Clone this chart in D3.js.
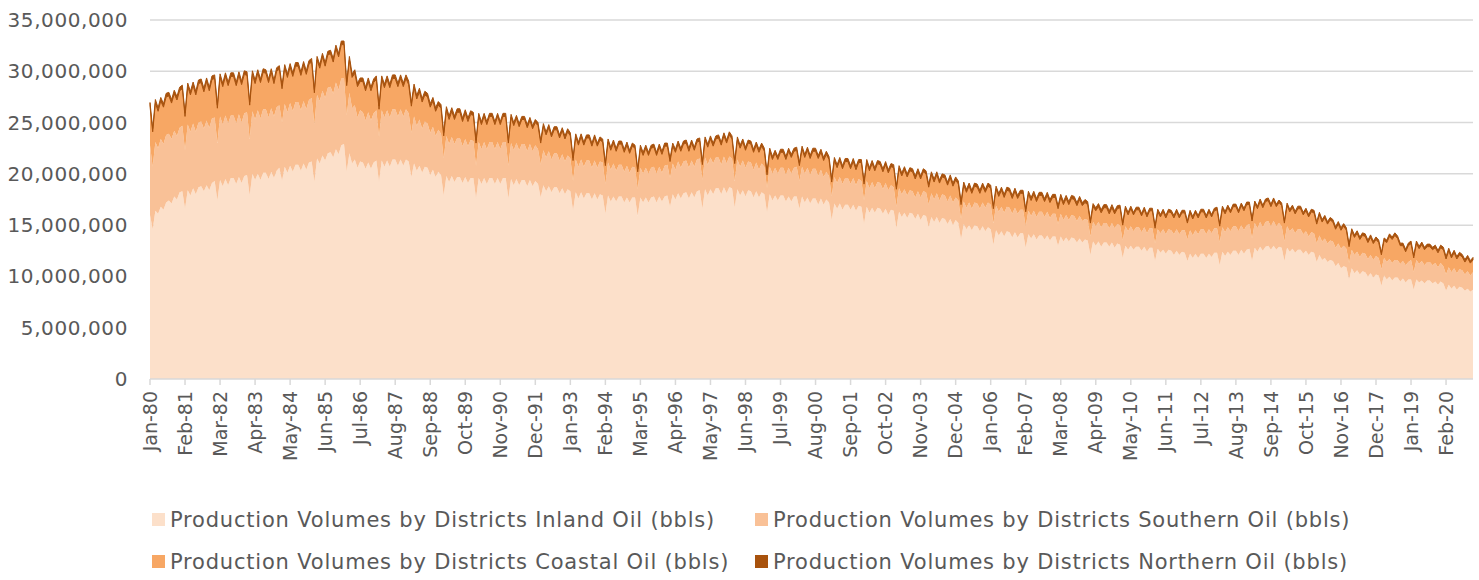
<!DOCTYPE html>
<html>
<head>
<meta charset="utf-8">
<script src="https://cdn.jsdelivr.net/npm/d3@7"></script>
<style>
  body { margin: 0; background: #fff; }
  text { font-family: "Century Gothic", "DejaVu Sans", sans-serif; fill: #595959; }
</style>
</head>
<body>
<div id="chart"></div>
<script>
/*
 * Monthly production, Jan-80 .. Dec-20, in millions of bbls.
 * One row per year.
 */
var monthNames = ["Jan","Feb","Mar","Apr","May","Jun","Jul","Aug","Sep","Oct","Nov","Dec"]
  , firstYear = 1980
  , lastYear = 2020;

var inland = [
  16.0,14.6,16.4,16.1,16.8,16.5,17.2,17.4,17.1,17.8,17.5,18.2,
  18.3,16.6,18.4,17.9,18.6,18.0,18.7,18.8,18.3,18.9,18.4,19.1,
  19.3,17.4,19.4,18.8,19.5,18.9,19.6,19.6,19.0,19.7,19.1,19.8,
  19.9,17.9,20.0,19.4,20.0,19.4,20.1,20.1,19.5,20.2,19.6,20.3,
  20.6,19.3,20.7,20.1,20.8,20.2,20.9,20.9,20.3,21.0,20.4,21.1,
  21.2,19.2,21.5,21.0,21.8,21.3,22.0,22.1,21.6,22.4,21.9,22.8,
  22.9,20.2,22.0,21.0,21.4,20.6,21.2,21.1,20.5,21.1,20.5,21.1,
  21.3,19.2,21.3,20.7,21.3,20.7,21.4,21.4,20.8,21.4,20.8,21.4,
  21.2,19.7,21.0,20.3,20.8,20.1,20.7,20.6,19.9,20.4,19.7,20.2,
  19.9,17.9,19.8,19.2,19.8,19.2,19.7,19.7,19.1,19.7,19.1,19.6,
  19.6,17.6,19.6,19.0,19.6,19.0,19.6,19.6,19.0,19.6,19.0,19.6,
  19.6,17.6,19.5,18.9,19.5,18.9,19.4,19.4,18.8,19.4,18.8,19.3,
  19.0,17.7,18.9,18.3,18.8,18.2,18.7,18.7,18.1,18.6,18.0,18.5,
  18.3,16.4,18.2,17.6,18.2,17.6,18.1,18.1,17.5,18.1,17.5,18.0,
  17.9,16.1,17.9,17.3,17.8,17.3,17.8,17.8,17.2,17.7,17.2,17.7,
  17.7,15.9,17.7,17.2,17.7,17.2,17.7,17.8,17.2,17.8,17.3,17.8,
  17.9,16.8,18.0,17.5,18.1,17.6,18.1,18.2,17.6,18.2,17.7,18.3,
  18.4,16.6,18.5,17.9,18.5,18.0,18.6,18.6,18.0,18.7,18.1,18.7,
  18.6,16.7,18.5,17.9,18.4,17.8,18.4,18.3,17.7,18.3,17.7,18.2,
  18.0,16.2,18.0,17.4,17.9,17.4,17.9,17.9,17.3,17.8,17.3,17.8,
  17.8,16.6,17.8,17.2,17.7,17.1,17.6,17.6,17.0,17.6,17.0,17.5,
  17.2,15.5,17.1,16.6,17.1,16.5,17.0,17.0,16.5,17.0,16.4,16.9,
  16.8,15.1,16.8,16.2,16.7,16.2,16.7,16.6,16.1,16.6,16.0,16.5,
  16.4,14.7,16.3,15.8,16.2,15.7,16.2,16.1,15.6,16.1,15.5,16.0,
  15.9,14.8,15.8,15.3,15.8,15.2,15.7,15.6,15.1,15.6,15.0,15.5,
  15.2,13.6,15.1,14.6,15.0,14.5,15.0,14.9,14.4,14.9,14.4,14.8,
  14.6,13.1,14.5,14.0,14.4,13.9,14.4,14.3,13.8,14.3,13.8,14.2,
  14.2,12.8,14.1,13.7,14.1,13.6,14.0,14.0,13.6,14.0,13.5,13.9,
  13.9,13.0,13.9,13.4,13.8,13.4,13.8,13.7,13.3,13.7,13.3,13.6,
  13.5,12.1,13.4,13.0,13.4,12.9,13.3,13.3,12.9,13.3,12.8,13.2,
  13.1,11.8,13.0,12.6,13.0,12.6,12.9,12.9,12.5,12.9,12.4,12.8,
  12.8,11.5,12.7,12.3,12.6,12.2,12.6,12.5,12.1,12.5,12.1,12.4,
  12.3,11.5,12.2,11.8,12.2,11.8,12.2,12.2,11.8,12.2,11.9,12.3,
  12.3,11.1,12.4,12.0,12.4,12.1,12.5,12.5,12.1,12.6,12.2,12.6,
  12.7,11.5,12.8,12.4,12.9,12.5,12.9,13.0,12.6,13.0,12.6,12.9,
  12.8,11.5,12.8,12.4,12.7,12.3,12.6,12.6,12.2,12.5,12.1,12.4,
  12.3,11.4,12.1,11.6,11.8,11.4,11.6,11.5,11.0,11.3,10.8,11.0,
  10.9,9.7,10.8,10.3,10.6,10.2,10.5,10.4,10.0,10.3,9.9,10.2,
  10.1,9.1,10.1,9.7,10.0,9.6,9.9,9.9,9.5,9.8,9.4,9.7,
  9.7,8.7,9.7,9.4,9.6,9.3,9.6,9.6,9.3,9.5,9.2,9.5,
  9.3,8.6,9.2,8.8,9.1,8.7,9.0,8.9,8.6,8.8,8.5,8.7
];

var southern = [
  6.8,6.1,6.7,6.4,6.6,6.4,6.6,6.5,6.3,6.4,6.2,6.3,
  6.4,5.7,6.4,6.2,6.3,6.1,6.3,6.3,6.1,6.3,6.1,6.3,
  6.2,5.6,6.2,6.0,6.2,6.0,6.1,6.1,5.9,6.1,5.9,6.1,
  6.1,5.5,6.1,5.9,6.2,6.0,6.2,6.2,6.0,6.2,6.0,6.2,
  6.1,5.7,6.1,5.9,6.1,5.9,6.1,6.1,5.9,6.1,5.9,6.1,
  6.2,5.6,6.2,6.1,6.3,6.1,6.4,6.4,6.2,6.5,6.3,6.5,
  6.4,5.5,5.9,5.4,5.3,4.9,5.0,4.9,4.7,4.9,4.7,4.8,
  4.9,4.4,4.9,4.8,4.9,4.8,4.9,4.9,4.8,4.9,4.8,4.9,
  4.7,4.3,4.6,4.4,4.5,4.3,4.4,4.3,4.1,4.2,4.0,4.1,
  4.0,3.6,3.9,3.7,3.8,3.7,3.8,3.8,3.6,3.7,3.6,3.7,
  3.6,3.2,3.5,3.4,3.5,3.4,3.5,3.5,3.4,3.5,3.4,3.5,
  3.5,3.2,3.5,3.4,3.5,3.4,3.5,3.5,3.4,3.5,3.4,3.5,
  3.4,3.2,3.4,3.3,3.4,3.2,3.3,3.3,3.2,3.3,3.2,3.3,
  3.2,2.9,3.2,3.1,3.2,3.1,3.2,3.2,3.1,3.2,3.1,3.2,
  3.2,2.9,3.2,3.1,3.2,3.0,3.1,3.1,3.0,3.1,2.9,3.0,
  2.9,2.6,2.9,2.8,2.9,2.8,2.9,2.9,2.8,2.9,2.8,3.0,
  3.0,2.8,3.0,2.9,3.1,3.0,3.1,3.1,3.0,3.1,3.0,3.1,
  3.1,2.8,3.1,3.0,3.1,3.0,3.0,3.0,2.9,3.0,2.9,3.0,
  2.9,2.6,2.9,2.8,2.9,2.8,2.8,2.8,2.7,2.8,2.7,2.8,
  2.7,2.4,2.7,2.6,2.7,2.6,2.7,2.7,2.6,2.8,2.7,2.8,
  2.9,2.7,2.9,2.8,2.9,2.8,2.9,2.9,2.8,2.8,2.7,2.7,
  2.6,2.3,2.6,2.5,2.6,2.5,2.6,2.6,2.5,2.6,2.5,2.6,
  2.5,2.3,2.5,2.4,2.5,2.4,2.5,2.5,2.4,2.5,2.4,2.4,
  2.3,2.1,2.3,2.2,2.3,2.2,2.2,2.2,2.1,2.2,2.2,2.3,
  2.3,2.2,2.3,2.2,2.3,2.2,2.3,2.3,2.2,2.3,2.2,2.2,
  2.2,2.0,2.2,2.1,2.2,2.1,2.2,2.2,2.2,2.3,2.3,2.4,
  2.4,2.1,2.4,2.3,2.4,2.3,2.4,2.4,2.3,2.4,2.3,2.3,
  2.3,2.1,2.3,2.2,2.3,2.2,2.3,2.3,2.2,2.3,2.2,2.2,
  2.2,2.1,2.2,2.1,2.2,2.1,2.2,2.2,2.1,2.2,2.1,2.0,
  2.0,1.8,1.9,1.9,1.9,1.9,1.9,1.9,1.8,1.9,1.9,1.9,
  1.9,1.7,1.9,1.8,1.9,1.8,1.9,1.9,1.8,1.9,1.8,1.9,
  1.9,1.7,1.9,1.9,2.0,1.9,2.0,2.0,2.0,2.1,2.0,2.1,
  2.2,2.1,2.3,2.2,2.3,2.3,2.4,2.4,2.3,2.4,2.3,2.4,
  2.4,2.2,2.4,2.3,2.4,2.3,2.4,2.4,2.3,2.4,2.3,2.4,
  2.4,2.2,2.4,2.3,2.4,2.3,2.4,2.4,2.3,2.4,2.3,2.3,
  2.1,1.9,2.1,2.0,2.0,1.9,2.0,2.0,1.9,1.9,1.8,1.9,
  1.9,1.8,1.9,1.8,1.9,1.8,1.9,1.9,1.8,1.9,1.9,2.0,
  1.8,1.6,1.8,1.8,1.8,1.7,1.8,1.8,1.7,1.8,1.7,1.8,
  1.7,1.6,1.7,1.7,1.7,1.7,1.7,1.7,1.7,1.7,1.7,1.7,
  1.9,1.7,1.9,1.8,1.9,1.8,1.8,1.8,1.8,1.8,1.7,1.8,
  1.7,1.6,1.7,1.6,1.7,1.6,1.7,1.7,1.6,1.7,1.6,1.7
];

var coastal = [
  3.8,3.4,3.8,3.6,3.7,3.6,3.7,3.7,3.5,3.6,3.5,3.6,
  3.6,3.3,3.7,3.6,3.7,3.6,3.8,3.8,3.6,3.8,3.6,3.8,
  3.8,3.4,3.8,3.7,3.8,3.7,3.8,3.8,3.7,3.8,3.7,3.8,
  3.6,3.3,3.6,3.5,3.6,3.5,3.6,3.5,3.4,3.5,3.2,3.5,
  3.5,3.3,3.5,3.4,3.5,3.4,3.5,3.5,3.4,3.5,3.4,3.5,
  3.5,3.1,3.4,3.2,3.3,3.1,3.2,3.2,3.1,3.3,3.2,3.3,
  3.3,2.9,3.2,3.0,3.1,3.0,2.8,3.0,2.9,3.0,2.9,3.0,
  3.0,2.7,3.0,2.9,3.0,2.9,3.0,3.0,2.9,3.0,2.9,3.0,
  2.8,2.6,2.8,2.6,2.7,2.6,2.6,2.6,2.5,2.5,2.4,2.4,
  2.5,2.2,2.5,2.4,2.5,2.4,2.5,2.5,2.4,2.5,2.4,2.5,
  2.5,2.2,2.5,2.4,2.5,2.4,2.5,2.5,2.4,2.5,2.4,2.5,
  2.5,2.2,2.5,2.4,2.4,2.3,2.4,2.4,2.3,2.3,2.2,2.2,
  2.3,2.1,2.3,2.2,2.3,2.2,2.3,2.3,2.2,2.3,2.2,2.3,
  2.2,2.0,2.2,2.1,2.2,2.1,2.2,2.2,2.1,2.2,2.1,2.1,
  2.0,1.8,2.0,1.9,2.0,1.9,2.0,2.0,1.9,2.0,1.9,2.0,
  1.9,1.7,1.9,1.8,1.9,1.8,1.9,1.9,1.8,1.9,1.8,1.9,
  1.8,1.6,1.7,1.7,1.7,1.6,1.7,1.7,1.6,1.7,1.6,1.7,
  1.7,1.5,1.7,1.7,1.8,1.7,1.8,1.9,1.9,2.0,2.0,2.1,
  1.9,1.7,1.9,1.8,1.8,1.7,1.8,1.8,1.7,1.7,1.7,1.7,
  1.5,1.3,1.5,1.4,1.4,1.4,1.5,1.5,1.5,1.6,1.6,1.6,
  1.6,1.5,1.7,1.6,1.7,1.6,1.7,1.7,1.7,1.7,1.6,1.7,
  1.6,1.4,1.6,1.5,1.6,1.5,1.6,1.6,1.5,1.6,1.5,1.6,
  1.8,1.6,1.8,1.7,1.8,1.7,1.8,1.8,1.7,1.8,1.7,1.8,
  1.9,1.7,1.9,1.8,1.9,1.8,1.9,1.9,1.8,1.9,1.8,1.9,
  1.8,1.7,1.8,1.7,1.8,1.7,1.7,1.7,1.6,1.7,1.6,1.7,
  1.6,1.4,1.6,1.5,1.6,1.5,1.6,1.6,1.5,1.6,1.5,1.6,
  1.6,1.4,1.6,1.5,1.6,1.5,1.6,1.6,1.5,1.6,1.5,1.6,
  1.6,1.4,1.6,1.5,1.6,1.5,1.6,1.6,1.5,1.6,1.5,1.6,
  1.6,1.5,1.6,1.5,1.6,1.5,1.6,1.6,1.5,1.6,1.5,1.6,
  1.5,1.3,1.5,1.5,1.5,1.4,1.5,1.5,1.4,1.5,1.4,1.5,
  1.7,1.5,1.7,1.6,1.7,1.6,1.7,1.7,1.6,1.7,1.6,1.7,
  1.7,1.5,1.7,1.6,1.7,1.6,1.7,1.7,1.6,1.7,1.6,1.7,
  1.7,1.6,1.7,1.6,1.7,1.6,1.7,1.7,1.6,1.7,1.6,1.7,
  1.8,1.6,1.8,1.8,1.9,1.8,1.9,1.9,1.8,1.9,1.9,2.0,
  1.9,1.7,1.9,1.9,2.0,1.9,2.0,2.0,1.9,2.0,1.9,2.0,
  2.0,1.8,2.0,1.9,2.0,1.9,2.0,2.0,1.9,2.0,1.9,2.0,
  2.0,1.9,2.0,1.9,2.0,1.9,2.0,1.9,1.8,1.9,1.8,1.9,
  1.8,1.6,1.8,1.7,1.8,1.7,1.7,1.7,1.6,1.7,1.6,1.6,
  1.5,1.4,1.7,1.9,2.2,2.3,2.4,2.1,1.8,1.5,1.3,1.6,
  1.6,1.4,1.6,1.5,1.6,1.5,1.5,1.5,1.5,1.5,1.4,1.5,
  1.6,1.5,1.6,1.4,1.5,1.4,1.4,1.3,1.2,1.3,1.2,1.2
];

var northern = [
  0.35,0.32,0.35,0.34,0.35,0.34,0.35,0.35,0.34,0.35,0.34,0.35,
  0.35,0.32,0.35,0.34,0.35,0.34,0.35,0.35,0.34,0.35,0.34,0.35,
  0.35,0.32,0.35,0.34,0.35,0.34,0.35,0.35,0.34,0.35,0.34,0.35,
  0.35,0.32,0.35,0.34,0.35,0.34,0.35,0.35,0.34,0.35,0.34,0.35,
  0.35,0.33,0.35,0.34,0.35,0.34,0.35,0.35,0.34,0.35,0.34,0.35,
  0.35,0.32,0.35,0.34,0.35,0.34,0.35,0.35,0.34,0.35,0.34,0.35,
  0.35,0.32,0.35,0.34,0.35,0.34,0.35,0.35,0.34,0.35,0.34,0.35,
  0.35,0.32,0.35,0.34,0.35,0.34,0.35,0.35,0.34,0.35,0.34,0.35,
  0.35,0.33,0.35,0.34,0.35,0.34,0.35,0.35,0.34,0.35,0.34,0.35,
  0.35,0.32,0.35,0.34,0.35,0.34,0.35,0.35,0.34,0.35,0.34,0.35,
  0.30,0.27,0.30,0.29,0.30,0.29,0.30,0.30,0.29,0.30,0.29,0.30,
  0.30,0.27,0.30,0.29,0.30,0.29,0.30,0.30,0.29,0.30,0.29,0.30,
  0.30,0.28,0.30,0.29,0.30,0.29,0.30,0.30,0.29,0.30,0.29,0.30,
  0.30,0.27,0.30,0.29,0.30,0.29,0.30,0.30,0.29,0.30,0.29,0.30,
  0.30,0.27,0.30,0.29,0.30,0.29,0.30,0.30,0.29,0.30,0.29,0.30,
  0.30,0.27,0.30,0.29,0.30,0.29,0.30,0.30,0.29,0.30,0.29,0.30,
  0.30,0.28,0.30,0.29,0.30,0.29,0.30,0.30,0.29,0.30,0.29,0.30,
  0.30,0.27,0.30,0.29,0.30,0.29,0.30,0.30,0.29,0.30,0.29,0.30,
  0.30,0.27,0.30,0.29,0.30,0.29,0.30,0.30,0.29,0.30,0.29,0.30,
  0.30,0.27,0.30,0.29,0.30,0.29,0.30,0.30,0.29,0.30,0.29,0.30,
  0.30,0.28,0.30,0.29,0.30,0.29,0.30,0.30,0.29,0.30,0.29,0.30,
  0.30,0.27,0.30,0.29,0.30,0.29,0.30,0.30,0.29,0.30,0.29,0.30,
  0.30,0.27,0.30,0.29,0.30,0.29,0.30,0.30,0.29,0.30,0.29,0.30,
  0.30,0.27,0.30,0.29,0.30,0.29,0.30,0.30,0.29,0.30,0.29,0.30,
  0.30,0.28,0.30,0.29,0.30,0.29,0.30,0.30,0.29,0.30,0.29,0.30,
  0.30,0.27,0.30,0.29,0.30,0.29,0.30,0.30,0.29,0.30,0.29,0.30,
  0.30,0.27,0.30,0.29,0.30,0.29,0.30,0.30,0.29,0.30,0.29,0.30,
  0.30,0.27,0.30,0.29,0.30,0.29,0.30,0.30,0.29,0.30,0.29,0.30,
  0.30,0.28,0.30,0.29,0.30,0.29,0.30,0.30,0.29,0.30,0.29,0.30,
  0.30,0.27,0.30,0.29,0.30,0.29,0.30,0.30,0.29,0.30,0.29,0.30,
  0.25,0.23,0.25,0.24,0.25,0.24,0.25,0.25,0.24,0.25,0.24,0.25,
  0.25,0.23,0.25,0.24,0.25,0.24,0.25,0.25,0.24,0.25,0.24,0.25,
  0.25,0.23,0.25,0.24,0.25,0.24,0.25,0.25,0.24,0.25,0.24,0.25,
  0.25,0.23,0.25,0.24,0.25,0.24,0.25,0.25,0.24,0.25,0.24,0.25,
  0.25,0.23,0.25,0.24,0.25,0.24,0.25,0.25,0.24,0.25,0.24,0.25,
  0.25,0.23,0.25,0.24,0.25,0.24,0.25,0.25,0.24,0.25,0.24,0.25,
  0.25,0.23,0.25,0.24,0.25,0.24,0.25,0.25,0.24,0.25,0.24,0.25,
  0.25,0.23,0.25,0.24,0.25,0.24,0.25,0.25,0.24,0.25,0.24,0.25,
  0.25,0.23,0.25,0.24,0.25,0.24,0.25,0.25,0.24,0.25,0.24,0.25,
  0.25,0.23,0.25,0.24,0.25,0.24,0.25,0.25,0.24,0.25,0.24,0.25,
  0.25,0.23,0.25,0.24,0.25,0.24,0.25,0.25,0.24,0.25,0.24,0.25
];

var seriesNames = [
  "Production Volumes by Districts Inland Oil (bbls)",
  "Production Volumes by Districts Southern Oil (bbls)",
  "Production Volumes by Districts Coastal Oil (bbls)",
  "Production Volumes by Districts Northern Oil (bbls)"
];
var yTicks = [0, 5, 10, 15, 20, 25, 30, 35];   // millions

var keys = ["inland", "southern", "coastal", "northern"]
  , colors = ["#fce0ca", "#f9c197", "#f7a764", "#a8520d"];

/*
 * Category labels like "Jan-80".
 */
var categories = [];
for (var yr = firstYear; yr <= lastYear; yr++) {
  monthNames.forEach(function(m) {
    categories.push(m + "-" + String(yr).slice(2));
  });
}

var rows = categories.map(function(c, i) {
  return { cat: c, i: i, inland: inland[i], southern: southern[i],
           coastal: coastal[i], northern: northern[i] };
});

var width = 1479
  , height = 580
  , plotLeft = 150
  , plotRight = 1473
  , plotTop = 20
  , plotBottom = 379;

var svg = d3.select('#chart').append('svg')
  .attr('width', width)
  .attr('height', height);

var x = d3.scaleLinear()
  .domain([0, categories.length - 1])
  .range([plotLeft, plotRight]);

var yScale = d3.scaleLinear()
  .domain([0, 35])
  .range([plotBottom, plotTop]);

/*
 * Gridlines and y labels.
 */
svg.append('g').selectAll('line')
  .data(yTicks.filter(function(d) { return d > 0; }))
  .enter().append('line')
  .attr('x1', plotLeft).attr('x2', plotRight)
  .attr('y1', function(d) { return yScale(d); })
  .attr('y2', function(d) { return yScale(d); })
  .attr('stroke', '#d9d9d9')
  .attr('stroke-width', 1.5);

svg.append('g').selectAll('text')
  .data(yTicks)
  .enter().append('text')
  .attr('x', 128)
  .attr('y', function(d) { return yScale(d); })
  .attr('dy', '0.35em')
  .attr('text-anchor', 'end')
  .style('font-size', '20px')
  .style('letter-spacing', '0.6px')
  .text(function(d) { return d3.format(",")(d * 1e6); });

/*
 * Stacked areas.
 */
var stack = d3.stack().keys(keys)(rows);

var area = d3.area()
  .x(function(d) { return x(d.data.i); })
  .y0(function(d) { return yScale(d[0]); })
  .y1(function(d) { return yScale(d[1]); });

svg.append('g').selectAll('path')
  .data(stack)
  .enter().append('path')
  .attr('d', area)
  .attr('fill', function(d, i) { return colors[i]; })
  .attr('stroke', function(d, i) { return i === 3 ? colors[3] : 'none'; })
  .attr('stroke-width', 1);

/*
 * X axis: line, ticks and labels every 13 months.
 */
var tickIdx = d3.range(0, categories.length, 13);

svg.append('line')
  .attr('x1', plotLeft).attr('x2', plotRight)
  .attr('y1', plotBottom).attr('y2', plotBottom)
  .attr('stroke', '#d9d9d9')
  .attr('stroke-width', 1.5);

svg.append('g').selectAll('line')
  .data(tickIdx)
  .enter().append('line')
  .attr('x1', function(d) { return x(d); })
  .attr('x2', function(d) { return x(d); })
  .attr('y1', plotBottom).attr('y2', plotBottom + 6)
  .attr('stroke', '#d9d9d9')
  .attr('stroke-width', 1.5);

svg.append('g').selectAll('text')
  .data(tickIdx)
  .enter().append('text')
  .attr('transform', function(d) {
    return 'translate(' + x(d) + ',' + (plotBottom + 12) + ') rotate(-90)';
  })
  .attr('dy', '0.35em')
  .attr('text-anchor', 'end')
  .style('font-size', '19px')
  .text(function(d) { return categories[d]; });

/*
 * Legend, two per row.
 */
var legend = svg.append('g').selectAll('g')
  .data(seriesNames)
  .enter().append('g')
  .attr('transform', function(d, i) {
    return 'translate(' + (i % 2 ? 755 : 152) + ',' + (i < 2 ? 520 : 562) + ')';
  });

legend.append('rect')
  .attr('x', 0).attr('y', -7)
  .attr('width', 13).attr('height', 13)
  .attr('fill', function(d, i) { return colors[i]; });

legend.append('text')
  .attr('x', 18)
  .attr('dy', '0.35em')
  .style('font-size', '21px')
  .style('letter-spacing', '0.8px')
  .text(function(d) { return d; });
</script>
</body>
</html>
